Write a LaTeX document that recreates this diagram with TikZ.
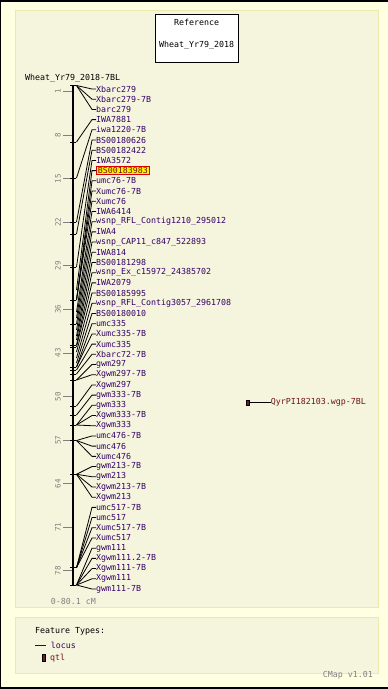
\documentclass[tikz,border=0pt]{standalone}
\usepackage{fontspec}
\setmonofont{DejaVu Sans Mono}
\definecolor{outerbg}{RGB}{255,255,226}
\definecolor{panelbg}{RGB}{245,245,222}
\definecolor{panelbd}{RGB}{238,232,170}
\definecolor{lblc}{RGB}{51,0,102}
\definecolor{qtlc}{RGB}{102,34,34}
\definecolor{qtltext}{RGB}{110,20,20}
\definecolor{scalegray}{RGB}{128,128,128}
\definecolor{hlred}{RGB}{220,0,0}
\begin{document}
\begin{tikzpicture}[x=1pt,y=-1pt,
  font=\ttfamily\fontsize{8.3}{9}\selectfont,
  lbl/.style={anchor=west,inner sep=0pt,text=lblc},
  hl/.style={anchor=west,inner xsep=1.5pt,inner ysep=0.8pt,text height=6pt,text depth=0.8pt,fill=yellow,draw=hlred,line width=0.8pt,text=qtltext},
  connector/.style={black,line width=0.8pt},
  scaletick/.style={scalegray,line width=0.8pt},
  scalelbl/.style={text=scalegray,rotate=90,inner sep=0pt,font=\ttfamily\fontsize{7.5}{8}\selectfont},
  markertick/.style={black,line width=0.8pt},
  panel/.style={fill=panelbg,draw=panelbd,line width=1pt}]
\useasboundingbox (0,0) rectangle (388,689);
\fill[outerbg] (0,0) rectangle (388,689);
\draw[black,line width=1.5pt] (0,0.75) -- (388,0.75);
\draw[black,line width=2pt] (0,688) -- (388,688);
\draw[black,line width=1pt] (0.5,0) -- (0.5,689);
% panels
\draw[panel] (15,10) rectangle (378,607);
\draw[panel] (15,617) rectangle (378,673);
% reference box
\node[draw=black,fill=white,line width=0.8pt,minimum width=83pt,minimum height=48pt,inner sep=0pt] (refbox) at (196.7,38.3) {};
\node[inner sep=0pt] (reft) at (196.7,22.3) {Reference};
\node[inner sep=0pt] (refn) at (196.7,45.7) {Wheat\_Yr79\_2018};
% map title
\node[anchor=west,inner sep=0pt] (mapt) at (25,78.3) {Wheat\_Yr79\_2018-7BL};
% chromosome bar
\coordinate (bartop) at (73,85.5);
\coordinate (barbot) at (73,585);
\draw[black,line width=2.5pt] (bartop) -- (barbot);
\draw[markertick] (70,85.5) -- (76,85.5);
% scale
\foreach \c in {1,8,15,22,29,36,43,50,57,64,71,78} {
  \pgfmathsetmacro\sy{85.5+\c*6.22}
  \coordinate (s\c) at (63,\sy);
  \coordinate (sb\c) at (72,\sy);
  \draw[scaletick] (s\c) -- (sb\c);
  \node[scalelbl] (sl\c) at (58,\sy) {\c};
}
\node[anchor=west,inner sep=0pt,text=scalegray] (range) at (50.7,601) {0-80.1 cM};
% marker ticks
\foreach \ty in {142,178,222,234,267,300,324,345,347,367,370,374,380,406,415,425,440.5,474.3,567.7,585} {
  \draw[markertick] (70,\ty) -- (76,\ty);
}
% markers
\foreach \name/\pos/\sty [count=\i from 0] in {
 Xbarc279/85.5/lbl, Xbarc279-7B/85.5/lbl, barc279/85.5/lbl,
 IWA7881/142/lbl, iwa1220-7B/178/lbl, BS00180626/222/lbl,
 BS00182422/234/lbl, IWA3572/267/lbl, BS00183983/290/hl,
 umc76-7B/300/lbl, Xumc76-7B/300/lbl, Xumc76/300/lbl,
 IWA6414/312/lbl, wsnp\_RFL\_Contig1210\_295012/318/lbl, IWA4/324/lbl,
 wsnp\_CAP11\_c847\_522893/330/lbl, IWA814/336/lbl, BS00181298/340/lbl,
 wsnp\_Ex\_c15972\_24385702/345/lbl, IWA2079/347/lbl, BS00185995/352/lbl,
 wsnp\_RFL\_Contig3057\_2961708/358/lbl, BS00180010/363/lbl, umc335/367/lbl,
 Xumc335-7B/367/lbl, Xumc335/370/lbl, Xbarc72-7B/374/lbl,
 gwm297/380/lbl, Xgwm297-7B/380/lbl, Xgwm297/406/lbl,
 gwm333-7B/415/lbl, gwm333/425/lbl, Xgwm333-7B/425/lbl, Xgwm333/425/lbl,
 umc476-7B/440.5/lbl, umc476/440.5/lbl, Xumc476/440.5/lbl,
 gwm213-7B/474.3/lbl, gwm213/474.3/lbl, Xgwm213-7B/474.3/lbl, Xgwm213/474.3/lbl,
 umc517-7B/567.7/lbl, umc517/567.7/lbl, Xumc517-7B/567.7/lbl, Xumc517/567.7/lbl,
 gwm111/585/lbl, Xgwm111.2-7B/585/lbl, Xgwm111-7B/585/lbl, Xgwm111/585/lbl, gwm111-7B/585/lbl} {
  \pgfmathsetmacro\ly{89+\i*10.204}
  \coordinate (p\i) at (76.5,\pos);
  \coordinate (k\i) at (92,\ly);
  \node[\sty] (m\i) at (96,\ly) {\name};
  \draw[connector] (p\i) -- (k\i) -- (96,\ly);
}
% QTL
\node[draw=black,fill=qtlc,line width=0.6pt,minimum width=3pt,minimum height=5pt,inner sep=0pt] (qbox) at (247.5,402.5) {};
\node[anchor=west,inner sep=0pt,text=qtltext] (qlbl) at (270.7,402.5) {QyrPI182103.wgp-7BL};
\draw[connector] (qbox.east) -- (qlbl.west);
% legend
\node[anchor=west,inner sep=0pt] (ft) at (35,631) {Feature Types:};
\coordinate (loca) at (35,645);
\coordinate (locb) at (46,645);
\draw[lblc,line width=0.8pt] (loca) -- (locb);
\node[anchor=west,inner sep=0pt,text=lblc] (loclbl) at (50.7,645.3) {locus};
\node[draw=black,fill=qtlc,line width=0.6pt,minimum width=3.4pt,minimum height=7pt,inner sep=0pt] (qleg) at (44,657.5) {};
\node[anchor=west,inner sep=0pt,text=qtltext] (qtllbl) at (50,657.7) {qtl};
\node[anchor=west,inner sep=0pt,text=scalegray] (ver) at (322.7,675.7) {CMap v1.01};
\end{tikzpicture}
\end{document}
